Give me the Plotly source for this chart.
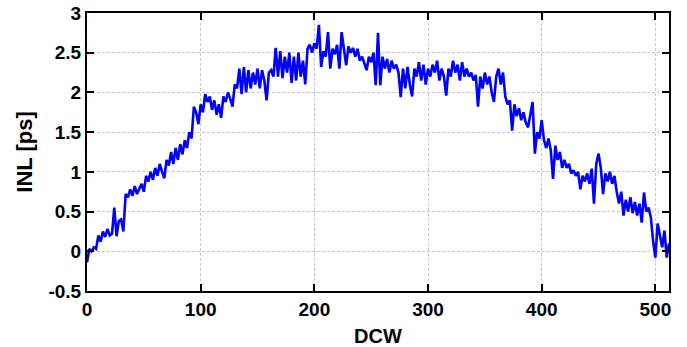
import plotly.graph_objects as go

dcw = list(range(0, 513, 2))
inl = [
    -0.14, 0.03, 0.0, 0.05, 0.03, 0.2, 0.12, 0.25, 0.18, 0.28,
    0.2, 0.22, 0.55, 0.19, 0.38, 0.4, 0.25, 0.72, 0.68, 0.78,
    0.7, 0.82, 0.72, 0.78, 0.85, 0.75, 0.95, 0.88, 1.0, 0.9,
    1.05, 0.95, 1.1, 1.0, 0.92, 1.15, 1.08, 1.25, 1.1, 1.3,
    1.15, 1.35, 1.22, 1.4, 1.3, 1.5, 1.42, 1.82, 1.75, 1.6,
    1.85, 1.75, 1.98, 1.88, 1.95, 1.78, 1.9, 1.72, 1.85, 1.68,
    1.95, 1.88, 2.0, 1.92, 1.82, 2.1, 2.05, 2.3, 1.98, 2.32,
    2.0, 2.28, 2.05, 2.25, 2.1, 2.3, 2.05, 2.28, 2.15, 1.9,
    2.25, 2.28, 2.2, 2.56, 2.2, 2.52, 2.18, 2.45, 2.25, 2.5,
    2.12, 2.45, 2.15, 2.5, 2.2, 2.4, 2.1, 2.55, 2.6, 2.5,
    2.62, 2.55, 2.85, 2.32, 2.52, 2.45, 2.76, 2.3, 2.55, 2.48,
    2.6, 2.3, 2.76, 2.55, 2.34, 2.58, 2.5, 2.56, 2.45, 2.55,
    2.4, 2.45, 2.35, 2.28, 2.45, 2.38, 2.5, 2.09, 2.75, 2.09,
    2.45, 2.3, 2.42, 2.25, 2.4, 2.3, 2.35, 2.25, 1.94, 2.3,
    2.05, 2.32, 2.1, 1.95, 2.3, 2.2, 2.38, 2.15, 2.35, 2.1,
    2.3, 2.2, 2.35, 2.25, 2.4, 2.15, 2.3, 2.2, 1.96, 2.3,
    2.2, 2.4, 2.25, 2.35, 2.15, 2.38, 2.2, 2.3, 2.2, 2.25,
    2.15, 2.22, 1.82, 2.2, 2.05, 2.25, 2.1, 2.2, 2.0, 1.88,
    2.2, 2.3, 2.1, 2.25, 1.95, 1.85, 1.9, 1.52, 1.85, 1.7,
    1.8, 1.65, 1.75, 1.62, 1.56, 1.7, 1.88, 1.23, 1.5, 1.42,
    1.65, 1.4, 1.3, 1.42, 1.27, 0.91, 1.33, 1.15, 1.25, 1.05,
    1.15, 1.05, 1.1, 0.98, 1.02, 0.95, 1.0, 0.78, 0.95, 0.88,
    0.98, 0.85, 1.04, 0.6, 1.1, 1.23, 1.05, 0.72, 0.98, 0.88,
    1.0, 0.85, 0.95, 0.75, 0.6, 0.75, 0.45, 0.65, 0.5, 0.68,
    0.48, 0.62, 0.45, 0.6, 0.36, 0.74, 0.5, 0.55, 0.43, 0.13,
    -0.08, 0.35, 0.22, 0.05, 0.26, -0.08, 0.1,
]

x_ticks = [0, 100, 200, 300, 400, 500]
y_ticks = [-0.5, 0, 0.5, 1, 1.5, 2, 2.5, 3]
y_ticklabels = ["-0.5", "0", "0.5", "1", "1.5", "2", "2.5", "3"]

fig = go.Figure()
fig.add_trace(go.Scatter(x=dcw, y=inl, mode="lines",
                         line=dict(color="#0000ff", width=2.6)))

fam = "Liberation Sans, Arial, sans-serif"
tickfont = dict(family=fam, size=19, color="#000000", weight="bold")
axis_common = dict(
    showline=True, linecolor="#000000", linewidth=2, mirror="allticks",
    ticks="inside", ticklen=7, tickwidth=2, tickcolor="#000000",
    showgrid=True, gridcolor="#c8c8c8", griddash="3px,2px", gridwidth=1,
    zeroline=False, tickfont=tickfont, automargin=False,
)
fig.update_layout(
    width=687, height=347,
    margin=dict(l=87, r=18, t=13, b=56),
    paper_bgcolor="white", plot_bgcolor="white",
    showlegend=False,
    xaxis=dict(range=[0, 512], tickvals=x_ticks,
               title=dict(text="DCW", font=dict(family=fam, size=20, color="#000000", weight="bold"),
                          standoff=14),
               **axis_common),
    yaxis=dict(range=[-0.5, 3], tickvals=y_ticks, ticktext=y_ticklabels,
               title=dict(text="INL [ps]", font=dict(family=fam, size=22, color="#000000", weight="bold"),
                          standoff=10),
               **axis_common),
)
fig.write_html("out.html")
